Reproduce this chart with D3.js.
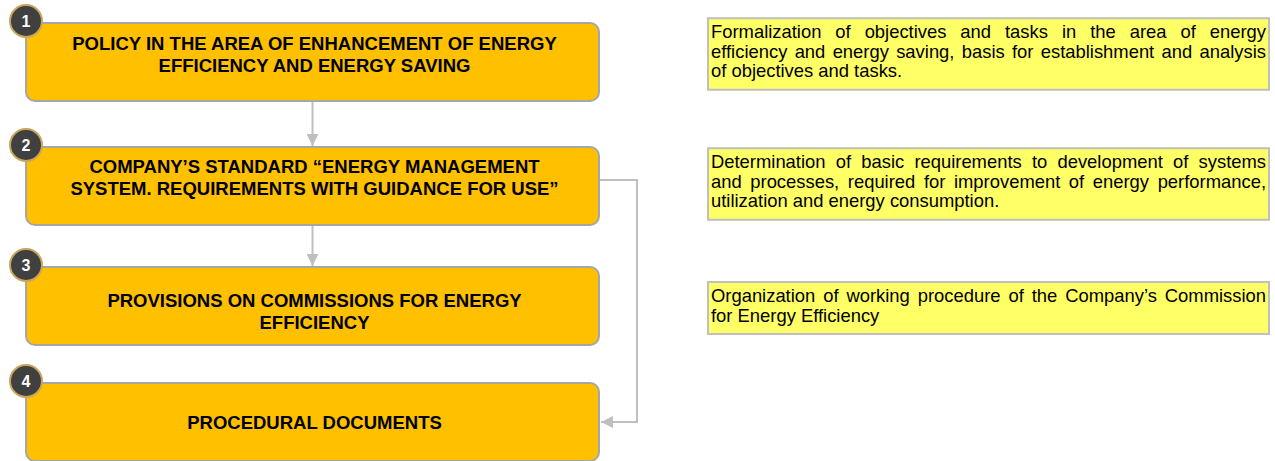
<!DOCTYPE html>
<html>
<head>
<meta charset="utf-8">
<script src="https://cdn.jsdelivr.net/npm/d3@7"></script>
<style>
  body { margin: 0; background: #fff; }
  svg { display: block; font-family: Arial, "Liberation Sans", sans-serif; }
</style>
</head>
<body>
<svg id="svg" width="1275" height="461"></svg>
<script>
// step numbers, titles (already broken into lines) and descriptions
const stepNumbers = [1, 2, 3, 4];

const stepTitles = [
  ["POLICY IN THE AREA OF ENHANCEMENT OF ENERGY", "EFFICIENCY AND ENERGY SAVING"],
  ["COMPANY\u2019S STANDARD \u201CENERGY MANAGEMENT", "SYSTEM. REQUIREMENTS WITH GUIDANCE FOR USE\u201D"],
  ["PROVISIONS ON COMMISSIONS FOR ENERGY", "EFFICIENCY"],
  ["PROCEDURAL DOCUMENTS"]
];

const stepNotes = [
  ["Formalization of objectives and tasks in the area of energy",
   "efficiency and energy saving, basis for establishment and analysis",
   "of objectives and tasks."],
  ["Determination of basic requirements to development of systems",
   "and processes, required for improvement of energy performance,",
   "utilization and energy consumption."],
  ["Organization of working procedure of the Company\u2019s Commission",
   "for Energy Efficiency"],
  []
];

// step 2 also points straight to step 4
const sideLinks = [[2, 4]];

const svg = d3.select("#svg");

const boxH = 78;
const lineColor = "#bfbfbf";

// rows are not evenly spaced in the original layout
const y = d3.scaleLinear().domain([1, 2, 3, 4]).range([23, 147, 267, 383]);
const x = d3.scaleLinear().domain([0, 1]).range([26, 599]);
const noteX = d3.scaleLinear().domain([0, 1]).range([708, 1269]);

// arrow head
svg.append("defs")
  .append("marker")
  .attr("id", "arrow")
  .attr("viewBox", "0 0 10 10")
  .attr("refX", 10)
  .attr("refY", 5)
  .attr("markerUnits", "userSpaceOnUse")
  .attr("markerWidth", 13)
  .attr("markerHeight", 12)
  .attr("orient", "auto")
  .append("path")
  .attr("d", "M0,0 L10,5 L0,10 Z")
  .attr("fill", lineColor);

// connectors between consecutive steps
svg.selectAll(".link")
  .data(stepNumbers.slice(0, 2))
  .enter()
  .append("line")
  .attr("class", "link")
  .attr("x1", x(0.5))
  .attr("x2", x(0.5))
  .attr("y1", d => y(d) + boxH)
  .attr("y2", d => y(d + 1) - 1)
  .attr("stroke", lineColor)
  .attr("stroke-width", 2)
  .attr("marker-end", "url(#arrow)");

// elbow connector on the right
svg.selectAll(".side")
  .data(sideLinks)
  .enter()
  .append("path")
  .attr("class", "side")
  .attr("d", d => {
    var xr = x(1) + 38;
    var y1 = y(d[0]) + 33;
    var y2 = y(d[1]) + 39;
    return `M${x(1)},${y1} H${xr} V${y2} H${x(1) + 2}`;
  })
  .attr("fill", "none")
  .attr("stroke", lineColor)
  .attr("stroke-width", 2)
  .attr("marker-end", "url(#arrow)");

// step boxes
var steps = svg.selectAll(".step")
  .data(stepNumbers)
  .enter()
  .append("g")
  .attr("class", "step")
  .attr("transform", d => `translate(0, ${y(d)})`);

steps.append("rect")
  .attr("x", x(0))
  .attr("y", 0)
  .attr("width", x(1) - x(0))
  .attr("height", boxH)
  .attr("rx", 9)
  .attr("fill", "#ffc000")
  .attr("stroke", "#a6a6a6")
  .attr("stroke-width", 2);

// baseline of the first title line inside each box
var titleTop = [27, 26, 40, 46];

steps.each(function (d, i) {
  var g = d3.select(this);
  stepTitles[i].forEach((line, k) => {
    g.append("text")
      .attr("x", x(0.5) + 2)
      .attr("y", titleTop[i] + k * 22)
      .attr("text-anchor", "middle")
      .attr("font-weight", "bold")
      .attr("font-size", "18.5px")
      .attr("fill", "#000")
      .text(line);
  });
});

// number badges
steps.append("circle")
  .attr("cx", x(0))
  .attr("cy", -2)
  .attr("r", 16)
  .attr("fill", "#404040")
  .attr("stroke", "#c9a45c")
  .attr("stroke-width", 2);

steps.append("text")
  .attr("x", x(0))
  .attr("y", 4)
  .attr("text-anchor", "middle")
  .attr("font-weight", "bold")
  .attr("font-size", "16px")
  .attr("fill", "#fff")
  .text(d => d);

// description boxes, justified text
var lineH = 19.5;
var noteCenter = [54, 184, 308];

stepNotes.forEach((lines, i) => {
  if (!lines.length) return;
  var h = lines.length * lineH + 13;
  var top = noteCenter[i] - h / 2;
  var g = svg.append("g").attr("class", "note");

  g.append("rect")
    .attr("x", noteX(0))
    .attr("y", top)
    .attr("width", noteX(1) - noteX(0))
    .attr("height", h)
    .attr("fill", "#ffff66")
    .attr("stroke", "#bfbfbf")
    .attr("stroke-width", 2);

  var left = noteX(0) + 3;
  var right = noteX(1) - 3;

  lines.forEach((line, k) => {
    var base = top + 20 + k * lineH;
    var words = line.split(" ");
    var last = k === lines.length - 1;

    var texts = words.map(w =>
      g.append("text")
        .attr("y", base)
        .attr("font-size", "18.4px")
        .attr("fill", "#000")
        .text(w)
    );
    var widths = texts.map(t => t.node().getComputedTextLength());
    var total = d3.sum(widths);
    var gap = last || words.length < 2
      ? 5.1
      : (right - left - total) / (words.length - 1);

    var cx = left;
    texts.forEach((t, j) => {
      t.attr("x", cx);
      cx += widths[j] + gap;
    });
  });
});
</script>
</body>
</html>
